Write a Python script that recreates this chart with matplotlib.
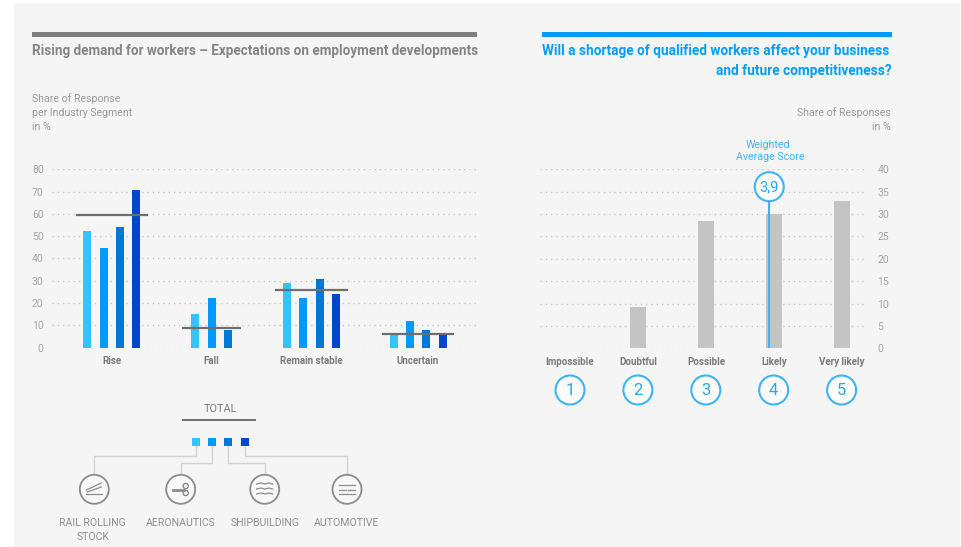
import matplotlib
matplotlib.use('Agg')
import matplotlib.pyplot as plt
from matplotlib.patches import Circle, Rectangle

plt.rcParams['font.family'] = ['Roboto', 'DejaVu Sans']

# left chart data, share of response in %
groups = ['Rise', 'Fall', 'Remain stable', 'Uncertain']
rail = [52.5, 15, 29, 5.5]
aero = [44.5, 22.5, 22.5, 12]
ship = [54, 8, 31, 8]
auto = [70.5, 0, 24, 6]
total = [59.5, 9, 26, 6]
left_ticks = [0, 10, 20, 30, 40, 50, 60, 70, 80]

# right chart data
answers = ['Impossible', 'Doubtful', 'Possible', 'Likely', 'Very likely']
scores = [1, 2, 3, 4, 5]
shares = [0, 9.2, 28.5, 30, 33]
weighted = 3.93
right_ticks = [0, 5, 10, 15, 20, 25, 30, 35, 40]

segments = ['RAIL ROLLING\nSTOCK', 'AERONAUTICS', 'SHIPBUILDING', 'AUTOMOTIVE']

colors = ['#33c3ff', '#0099ff', '#0078d7', '#0047cc']
W, H = 961, 547
GRAY = '#858585'
BLUE = '#009dff'
RING = '#3db4f7'
DOTS = (0, (1, 2.8))

fig = plt.figure(figsize=(W / 100, H / 100), dpi=100, facecolor='white')


def axes_px(x0, y0, x1, y1):
    # axes from pixel box, y counted from the top like in the picture
    return fig.add_axes([x0 / W, 1 - y1 / H, (x1 - x0) / W, (y1 - y0) / H])


# overlay in pixel coordinates for everything around the charts
bg = fig.add_axes([0, 0, 1, 1], zorder=0)
bg.set_xlim(0, W)
bg.set_ylim(H, 0)
bg.axis('off')
bg.add_patch(Rectangle((14, 3), W - 15, H - 3, color='#f5f5f5', lw=0))

# header bars and titles
bg.add_patch(Rectangle((32, 32), 445, 5, color='#7f7f7f', lw=0))
bg.add_patch(Rectangle((542, 32), 350, 5, color=BLUE, lw=0))
bg.text(32, 51.5, 'Rising demand for workers – Expectations on employment developments',
        fontsize=9.75, fontweight='bold', color=GRAY, va='center')
bg.text(889, 51.5, 'Will a shortage of qualified workers affect your business',
        fontsize=9.8, fontweight='bold', color=BLUE, va='center', ha='right')
bg.text(892, 71, 'and future competitiveness?',
        fontsize=9.8, fontweight='bold', color=BLUE, va='center', ha='right')
for y, s in zip([99, 113, 127], ['Share of Response', 'per Industry Segment', 'in %']):
    bg.text(32, y, s, fontsize=7.6, color='#9a9a9a', va='center')
for y, s in zip([113, 127], ['Share of Responses', 'in %']):
    bg.text(891, y, s, fontsize=7.6, color='#9a9a9a', va='center', ha='right')

# left chart
ax = axes_px(52, 169.3, 476, 347.7)
ax.set_xlim(52, 476)
ax.set_ylim(0, 80)
ax.patch.set_alpha(0)
centers = [111.8, 219.8, 311.5, 418.2]
for i, vals in enumerate([rail, aero, ship, auto]):
    xs = [c + (i - 1.5) * 16.35 for c in centers]
    ax.bar(xs, vals, width=8, color=colors[i], zorder=3)
line_from = [75.7, 182, 275, 382]
line_to = [148, 241, 348, 454]
ax.hlines(total, line_from, line_to, color='#6e6e6e', lw=1.6, zorder=4)
ax.set_yticks(left_ticks)
# labels sit a little off the bar groups in the picture
ax.set_xticks([111.5, 211.5, 311.5, 418])
ax.set_xticklabels(groups, fontsize=7, fontweight='bold', color='#7a7a7a')
ax.tick_params(axis='both', length=0)
ax.tick_params(axis='y', labelsize=7.5, labelcolor='#a5a5a5', pad=6)
ax.tick_params(axis='x', pad=6)
ax.grid(axis='y', color='#c8c8c8', lw=1, linestyle=DOTS, zorder=1)
for s in ax.spines.values():
    s.set_visible(False)

# right chart, one category is 68 px wide
ax2 = axes_px(540, 169.3, 865, 348.3)
ax2.set_xlim(1 - 30 / 68, 1 + 295 / 68)
ax2.set_ylim(0, 40)
ax2.patch.set_alpha(0)
ax2.bar(scores, shares, width=16 / 68, color='#c4c4c4', zorder=3)
ax2.set_yticks(right_ticks)
ax2.yaxis.tick_right()
ax2.set_xticks(scores)
ax2.set_xticklabels(answers, fontsize=7, fontweight='bold', color='#7a7a7a')
ax2.tick_params(axis='both', length=0)
ax2.tick_params(axis='y', labelsize=7.5, labelcolor='#a5a5a5', pad=9)
ax2.tick_params(axis='x', pad=6)
ax2.grid(axis='y', color='#c8c8c8', lw=1, linestyle=DOTS, zorder=1)
for s in ax2.spines.values():
    s.set_visible(False)
ax2.vlines(weighted, 0, 36, color=RING, lw=1.5, zorder=4)

# weighted score bubble
wx = 570 + (weighted - 1) * 68
top = fig.add_axes([0, 0, 1, 1], zorder=5)
top.set_xlim(0, W)
top.set_ylim(H, 0)
top.axis('off')
top.add_patch(Circle((wx, 186.7), 14.5, fc='white', ec=RING, lw=1.5))
top.text(wx, 187, '3,9', fontsize=10.5, color='#2aa5ee', ha='center', va='center')
top.text(768, 144.5, 'Weighted', fontsize=7.7, color=RING, ha='center', va='center')
top.text(770, 157, 'Average Score', fontsize=7.7, color=RING, ha='center', va='center')

# numbered answer circles
for sc in scores:
    cx = 570 + (sc - 1) * 67.9
    top.add_patch(Circle((cx, 390), 14.5, fc='white', ec=RING, lw=1.5))
    top.text(cx, 390.5, str(sc), fontsize=12, color='#2aa5ee', ha='center', va='center')

# legend with connectors
top.text(220.7, 408.5, 'TOTAL', fontsize=7.8, color='#7a7a7a', ha='center', va='center')
top.plot([183.3, 255.3], [420, 420], color='#6e6e6e', lw=1.4)

sq_x = [195.7, 212, 228.3, 244.7]
icon_x = [94.3, 180.7, 264.7, 347]
elbow_y = [456, 462.7, 462.7, 456]
for i in range(4):
    top.plot([sq_x[i], sq_x[i], icon_x[i], icon_x[i]], [446, elbow_y[i], elbow_y[i], 474],
             color='#d2d2d2', lw=1, zorder=1)
    top.add_patch(Rectangle((sq_x[i] - 4, 437.7), 8, 8, color=colors[i], lw=0))
    top.add_patch(Circle((icon_x[i], 489.3), 14.5, fc='#f8f8f8', ec='#8c8c8c', lw=1.3))
    y = 523 if i else 530
    top.text(icon_x[i] if i else 92.7, y, segments[i], fontsize=7.6, color='#8f8f8f',
             ha='center', va='center', linespacing=1.45)

# small icon glyphs
ic = '#8c8c8c'
cx = icon_x[0]
top.plot([cx - 8, cx + 7], [490, 483], color=ic, lw=0.9)
top.plot([cx - 7, cx + 7], [492, 487], color=ic, lw=0.9)
top.plot([cx - 8, cx + 8], [494, 494], color=ic, lw=0.9)
cx = icon_x[1]
top.plot([cx - 8, cx + 3], [489.5, 489.5], color=ic, lw=2)
top.add_patch(Circle((cx + 5, 486), 2.6, fc='none', ec=ic, lw=1))
top.add_patch(Circle((cx + 5, 493), 2.6, fc='none', ec=ic, lw=1))
cx = icon_x[2]
for y in [484, 489, 494]:
    top.plot([cx - 8, cx - 4, cx, cx + 4, cx + 8], [y, y - 1, y, y - 1, y], color=ic, lw=0.9)
cx = icon_x[3]
top.plot([cx - 8, cx + 8], [484.5, 484.5], color=ic, lw=0.9)
top.plot([cx - 8, cx - 1], [489.5, 489.5], color=ic, lw=0.9)
top.plot([cx + 1, cx + 8], [489.5, 489.5], color=ic, lw=0.9)
top.plot([cx - 8, cx + 8], [494, 494], color=ic, lw=0.9)

fig.savefig('out.png', dpi=100)
